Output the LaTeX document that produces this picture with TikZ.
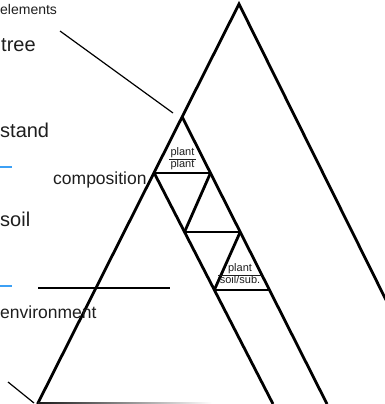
\documentclass[tikz,border=0pt]{standalone}
\usepackage{fontspec}
\setmainfont{Liberation Sans}
\usetikzlibrary{calc}
\definecolor{ink}{HTML}{1E1E1E}
\definecolor{accent}{RGB}{60,160,245}
\begin{document}
\begin{tikzpicture}[x=1pt,y=-1pt,
  heavy/.style={line width=2.8pt, line join=miter},
  rung/.style={line width=2pt},
  thinline/.style={line width=1.2pt},
  tick/.style={line width=2.5pt, draw=accent},
  bigtext/.style={font=\fontsize{20}{24}\selectfont, text=ink, inner sep=0pt, anchor=base west},
  midtext/.style={font=\fontsize{17.5}{21}\selectfont, text=ink, inner sep=0pt, anchor=base west},
  smalltext/.style={font=\fontsize{14}{17}\selectfont, text=ink, inner sep=0pt, anchor=base west},
  fraction/.style={font=\fontsize{11}{12}\selectfont, text=ink, inner sep=0pt}]
\useasboundingbox (0,0) rectangle (385,404);
\setlength{\tabcolsep}{1.5pt}
\setlength{\arrayrulewidth}{0.8pt}

% outer triangle
\coordinate (apex) at (239,4);
\coordinate (outerL) at (37.5,404);
\coordinate (outerR) at (386,300);
\draw[heavy] (outerL) -- (apex) -- (outerR);

% points on the left side where the strip begins
\coordinate (p1) at (182.2,117);
\coordinate (p2) at (154.2,173);
\coordinate (b1) at (327,404);
\coordinate (b2) at (273,404);
\draw[heavy] (p1) -- (b1);
\draw[heavy] (p2) -- (b2);

% stack of small triangles inside the strip
\coordinate (r1) at (210.5,173);
\coordinate (l2) at (184.5,232);
\coordinate (r2) at (240.2,232);
\coordinate (l3) at (214.3,290);
\coordinate (r3) at (269.6,290);
\draw[rung] (p2) -- (r1);
\draw[rung] (l2) -- (r2);
\draw[rung] (l3) -- (r3);
\draw[heavy] (r1) -- (l2);
\draw[heavy] (r2) -- (l3);

% fractions
\node[fraction] (frac1) at (182.5,159) {\begin{tabular}{c}plant\\\hline plant\end{tabular}};
\node[fraction] (frac2) at (240,275) {\begin{tabular}{c}plant\\\hline soil/sub.\end{tabular}};

% labels
\node[smalltext] (elements) at (0,15) {elements};
\node[bigtext] (tree) at (1,52) {tree};
\node[bigtext] (stand) at (0,137) {stand};
\node[bigtext] (soil) at (0,226) {soil};
\node[midtext] (composition) at (53,184) {composition};
\node[midtext] (environment) at (0,318) {environment};

% thin lines
\coordinate (leadA) at (60,31);
\coordinate (leadB) at (173,113);
\draw[thinline] (leadA) -- (leadB);
\coordinate (baseA) at (38,288);
\coordinate (baseB) at (170,288);
\draw[thinline] (baseA) -- (baseB);
\coordinate (cornerA) at (8,382);
\coordinate (cornerB) at (34,403);
\draw[thinline] (cornerA) -- (cornerB);

% blue ticks
\coordinate (tickA1) at (0,167);
\coordinate (tickA2) at (12,167);
\coordinate (tickB1) at (0,286);
\coordinate (tickB2) at (12,286);
\draw[tick] (tickA1) -- (tickA2);
\draw[tick] (tickB1) -- (tickB2);

% fading base line
\shade[left color=black!90, right color=white] (38,402) rectangle (212,404);
\end{tikzpicture}
\end{document}
